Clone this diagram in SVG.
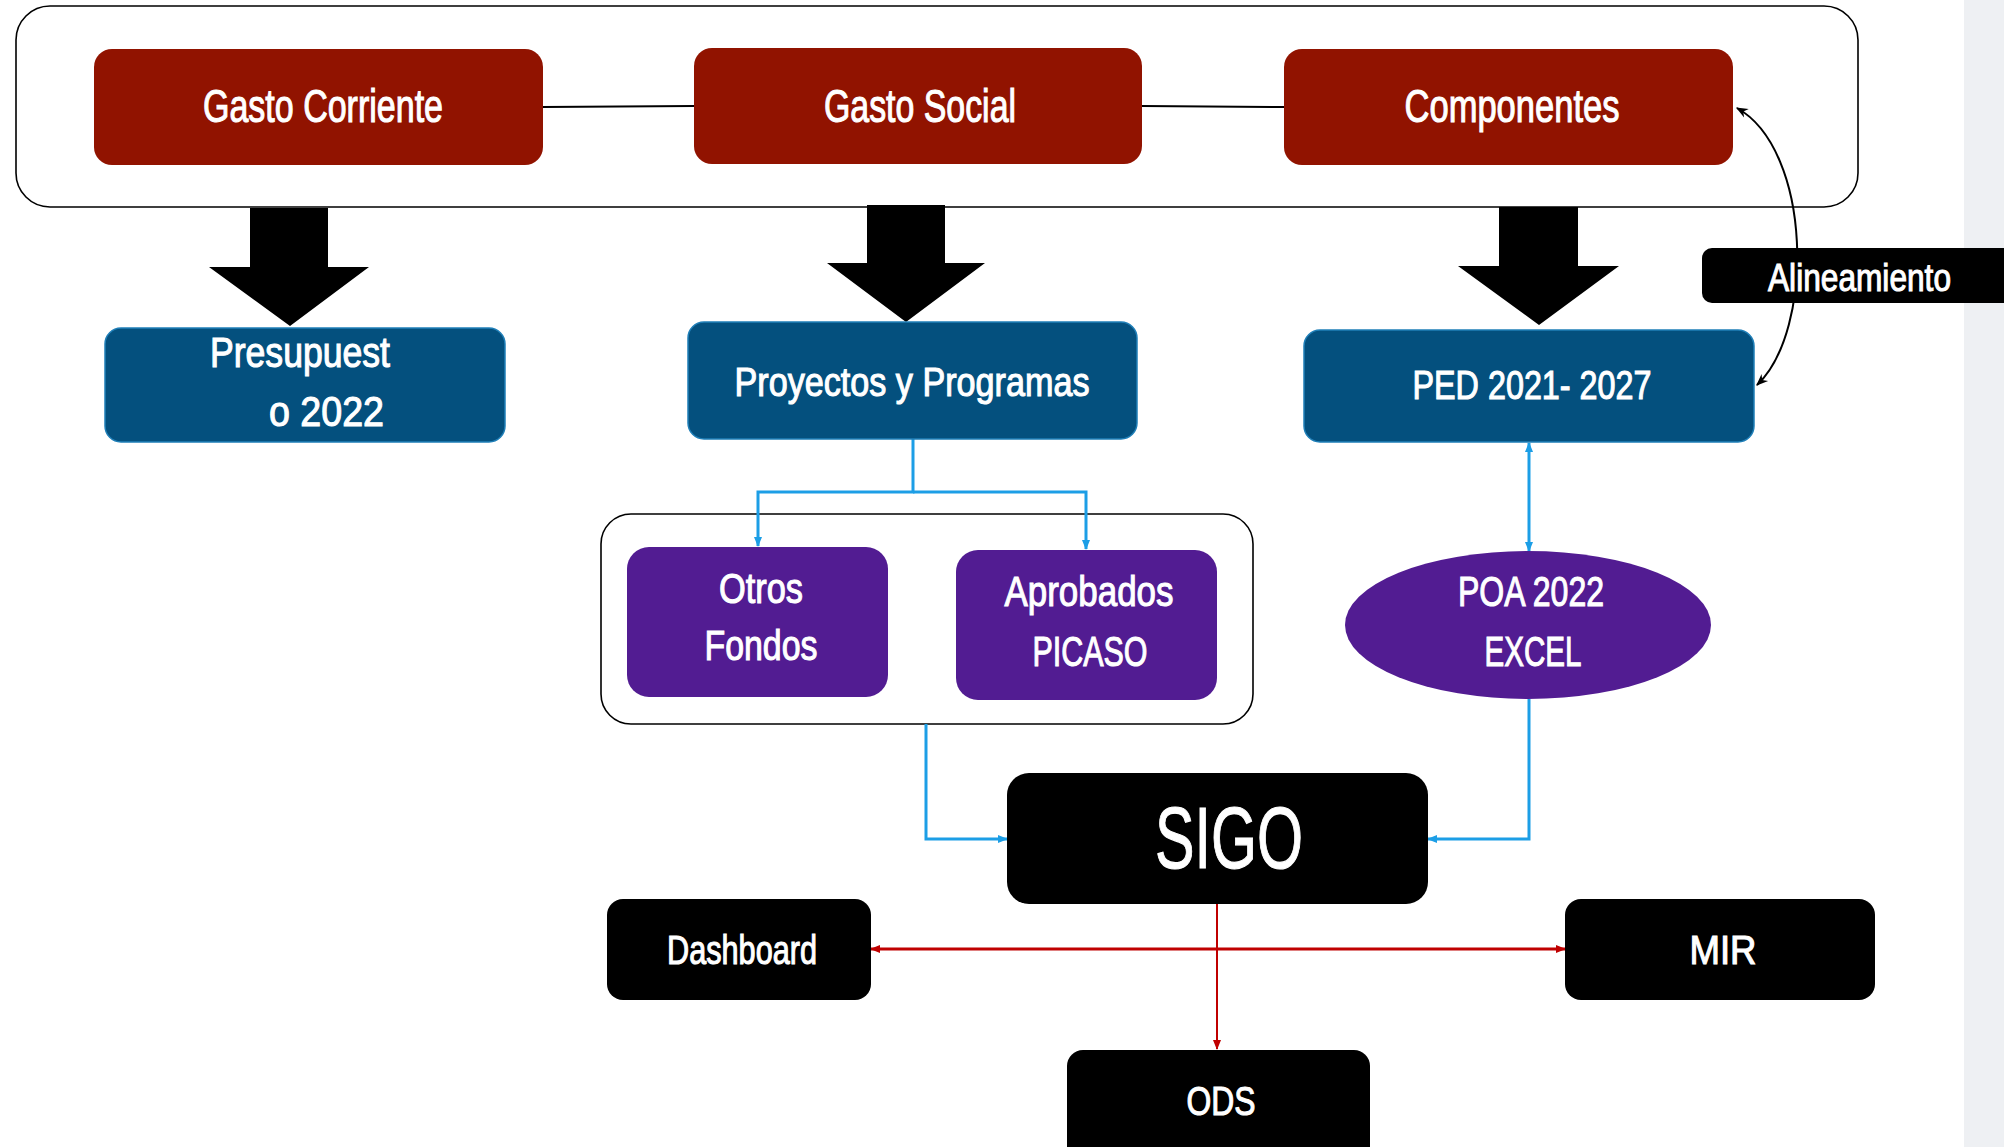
<svg xmlns="http://www.w3.org/2000/svg" width="2004" height="1147" viewBox="0 0 2004 1147">
<style>
.red{fill:#911300}
.blue{fill:#04507E;stroke:#1F7FB8;stroke-width:1.5}
.purple{fill:#521C92}
.blk{fill:#000}
.frame{fill:#fff;stroke:#000;stroke-width:1.6}
.t{font-family:"Liberation Sans",Arial,sans-serif;fill:#fff;stroke:#fff;stroke-width:1.1;text-anchor:middle}
.ts{font-family:"Liberation Sans",Arial,sans-serif;fill:#fff;stroke:#fff;stroke-width:1.1}
.bc{fill:none;stroke:#1C9EE6;stroke-width:3}
.rc{fill:none;stroke:#C00000}
.kc{fill:none;stroke:#000;stroke-width:2}
.big{fill:#000}
</style>
<defs>
<marker id="ab" viewBox="0 0 10 10" refX="9" refY="5" markerUnits="userSpaceOnUse" markerWidth="10" markerHeight="10" orient="auto-start-reverse"><path d="M0,1 L10,5 L0,9 z" fill="#1C9EE6"/></marker>
<marker id="ar" viewBox="0 0 10 10" refX="9" refY="5" markerUnits="userSpaceOnUse" markerWidth="10" markerHeight="10" orient="auto-start-reverse"><path d="M0,1 L10,5 L0,9 z" fill="#C00000"/></marker>
<marker id="ak" viewBox="0 0 10 10" refX="9" refY="5" markerUnits="userSpaceOnUse" markerWidth="12" markerHeight="12" orient="auto-start-reverse"><path d="M0,1 L10,5 L0,9 L3,5 z" fill="#000"/></marker>
</defs>
<rect x="1964" y="0" width="40" height="1147" fill="#EEF0F3"/>
<g id="grupo-gasto">
<rect class="frame" x="16" y="6" width="1842" height="201" rx="34"/>
</g>
<g id="grupo-fondos">
<rect class="frame" x="601" y="514" width="652" height="210" rx="30"/>
</g>
<g id="connectors">
<path class="kc" d="M543 107 L694 106"/>
<path class="kc" d="M1142 106 L1284 107"/>
<polygon class="big" points="250,208 328,208 328,267 369,267 290,326 209,267 250,267"/>
<polygon class="big" points="867,205 945,205 945,263 985,263 906,322 827,263 867,263"/>
<polygon class="big" points="1499,207 1578,207 1578,266 1619,266 1539,325 1458,266 1499,266"/>
<path class="kc" d="M1737 108 C1812 150 1815 330 1757 385" marker-start="url(#ak)" marker-end="url(#ak)"/>
<path class="bc" d="M913 439 V492 H758 V546" marker-end="url(#ab)"/>
<path class="bc" d="M913 492 H1086 V549" marker-end="url(#ab)"/>
<path class="bc" d="M1529 443 V551" marker-start="url(#ab)" marker-end="url(#ab)"/>
<path class="bc" d="M926 724 V839 H1007" marker-end="url(#ab)"/>
<path class="bc" d="M1529 699 V839 H1428" marker-end="url(#ab)"/>
<path class="rc" stroke-width="2" d="M1217 904 V1049" marker-end="url(#ar)"/>
<path class="rc" stroke-width="3" d="M871 949 H1565" marker-start="url(#ar)" marker-end="url(#ar)"/>
</g>
<g id="gasto-corriente">
<rect class="red" x="94" y="49" width="449" height="116" rx="18"/>
<text class="t" x="323" y="122" font-size="46" textLength="240" lengthAdjust="spacingAndGlyphs">Gasto Corriente</text>
</g>
<g id="gasto-social">
<rect class="red" x="694" y="48" width="448" height="116" rx="18"/>
<text class="t" x="920" y="122" font-size="46" textLength="192" lengthAdjust="spacingAndGlyphs">Gasto Social</text>
</g>
<g id="componentes">
<rect class="red" x="1284" y="49" width="449" height="116" rx="18"/>
<text class="t" x="1512" y="122" font-size="46" textLength="215" lengthAdjust="spacingAndGlyphs">Componentes</text>
</g>
<g id="presupuesto">
<rect class="blue" x="105" y="328" width="400" height="114" rx="16"/>
<text class="ts" x="210" y="367" font-size="42" textLength="180" lengthAdjust="spacingAndGlyphs">Presupuest</text>
<text class="ts" x="269" y="426" font-size="42" textLength="115" lengthAdjust="spacingAndGlyphs">o 2022</text>
</g>
<g id="proyectos">
<rect class="blue" x="688" y="322" width="449" height="117" rx="16"/>
<text class="t" x="912" y="396" font-size="40" textLength="355" lengthAdjust="spacingAndGlyphs">Proyectos y Programas</text>
</g>
<g id="ped">
<rect class="blue" x="1304" y="330" width="450" height="112" rx="16"/>
<text class="t" x="1532" y="399" font-size="40" textLength="239" lengthAdjust="spacingAndGlyphs">PED 2021- 2027</text>
</g>
<g id="alineamiento">
<rect class="blk" x="1702" y="248" width="320" height="55" rx="10"/>
<text class="ts" x="1768" y="291" font-size="39" textLength="183" lengthAdjust="spacingAndGlyphs">Alineamiento</text>
</g>
<g id="otros-fondos">
<rect class="purple" x="627" y="547" width="261" height="150" rx="22"/>
<text class="t" x="761" y="603" font-size="43" textLength="84" lengthAdjust="spacingAndGlyphs">Otros</text>
<text class="t" x="761" y="660" font-size="43" textLength="113" lengthAdjust="spacingAndGlyphs">Fondos</text>
</g>
<g id="aprobados-picaso">
<rect class="purple" x="956" y="550" width="261" height="150" rx="22"/>
<text class="t" x="1089" y="606" font-size="43" textLength="169" lengthAdjust="spacingAndGlyphs">Aprobados</text>
<text class="t" x="1090" y="666" font-size="43" textLength="115" lengthAdjust="spacingAndGlyphs">PICASO</text>
</g>
<g id="poa">
<ellipse class="purple" cx="1528" cy="625" rx="183" ry="74"/>
<text class="t" x="1531" y="606" font-size="43" textLength="146" lengthAdjust="spacingAndGlyphs">POA 2022</text>
<text class="t" x="1533" y="666" font-size="43" textLength="97" lengthAdjust="spacingAndGlyphs">EXCEL</text>
</g>
<g id="sigo">
<rect class="blk" x="1007" y="773" width="421" height="131" rx="22"/>
<text class="t" x="1229" y="868" font-size="88" textLength="148" lengthAdjust="spacingAndGlyphs" stroke-width="2">SIGO</text>
</g>
<g id="dashboard">
<rect class="blk" x="607" y="899" width="264" height="101" rx="16"/>
<text class="t" x="742" y="964" font-size="40" textLength="150" lengthAdjust="spacingAndGlyphs">Dashboard</text>
</g>
<g id="mir">
<rect class="blk" x="1565" y="899" width="310" height="101" rx="16"/>
<text class="t" x="1723" y="964" font-size="40" textLength="67" lengthAdjust="spacingAndGlyphs">MIR</text>
</g>
<g id="ods">
<rect class="blk" x="1067" y="1050" width="303" height="120" rx="16"/>
<text class="t" x="1221" y="1115" font-size="40" textLength="69" lengthAdjust="spacingAndGlyphs">ODS</text>
</g>
</svg>
